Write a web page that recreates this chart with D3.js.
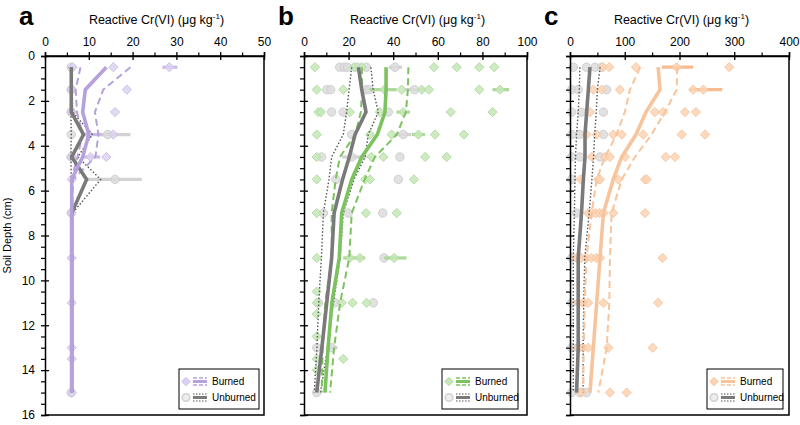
<!DOCTYPE html>
<html><head><meta charset="utf-8">
<script src="https://cdn.jsdelivr.net/npm/d3@7"></script>
<style>body{margin:0;background:#fff}svg{display:block;font-family:"Liberation Sans",Arial,sans-serif}</style>
</head><body><svg id="chart" width="800" height="425"></svg>
<script>
// ---------------- DATA ----------------
const depths = [0.5, 1.5, 2.5, 3.5, 4.5, 5.5, 7, 9, 11, 13, 15];
const depthTicks = [0, 2, 4, 6, 8, 10, 12, 14, 16];

// Panel a
const aTicks = [0, 10, 20, 30, 40, 50];
const aBurnedMean = [14, 9.2, 8.6, 10, 8.6, 6.1, 6.1, 6.1, 6.1, 6.1, 6.1];
const aBurnedLo   = [8.1, 7.0, 7.3, 8.6, 7.4, 6.0, 6.0, 6.0, 6.0, 6.0, 6.0];
const aBurnedHi   = [19.5, 13.3, 11.4, 12.2, 11.5, 6.4, 6.2, 6.2, 6.2, 6.2, 6.2];
const aUnbMean    = [6, 6, 6, 8.8, 6.1, 9.5, 6.1, 6.1, 6.1, 6.1, 6.1];
const aUnbLo      = [5.9, 5.9, 5.9, 6.0, 5.9, 6.0, 5.9, 5.9, 5.9, 5.9, 5.9];
const aUnbHi      = [6.2, 6.2, 6.3, 10.8, 7.5, 12.7, 6.3, 6.2, 6.2, 6.2, 6.2];
// points: [depth, value, errLo, errHi]
const aBurnedPts = [[0.5,6.3],[0.5,15.6],[0.5,28.4,26.8,30.2],[1.5,6],[1.5,18.7],[2.5,6],[2.5,16],
  [3.5,10,8.5,13],[3.5,15.6],[4.5,6],[4.5,10.4,8.8,12.6],[4.5,14],[5.5,6.1],[7,6.1],[9,6.1],[11,6.1],
  [13,6.1],[13.5,6.1],[15,6.1]];
const aUnbPts = [[0.5,6],[1.5,6],[2.5,6],[3.5,6],[3.5,14.3,12,19.5],[4.5,6],[5.5,16,9.5,22.1],[7,6],[15,6]];

// Panel b
const bTicks = [0, 20, 40, 60, 80, 100];
const bBurnedMean = [36.8, 36.8, 36.3, 32.9, 25.9, 21.4, 16.9, 15.8, 12.5, 10.8, 9.4];
const bBurnedLo   = [25.9, 26.1, 25.5, 23, 16.1, 14.2, 12.4, 12.5, 9.5, 8.4, 7.9];
const bBurnedHi   = [46.8, 46.6, 45.7, 41.6, 31.8, 27.2, 21.4, 20.3, 16.2, 13.5, 11.7];
const bUnbMean    = [24.4, 25.9, 27.8, 22.9, 20.3, 17.3, 13.5, 12.4, 10.2, 8.0, 5.7];
const bUnbLo      = [21.4, 20.2, 19.1, 17.6, 12.4, 11.2, 8.7, 7.8, 6.6, 5.8, 4.6];
const bUnbHi      = [30, 31, 33.3, 28.8, 27.4, 22.4, 17.6, 16.2, 13.2, 10.6, 7.4];
const bBurnedPts = [[0.5,4.9],[0.5,22.4],[0.5,25.9],[0.5,58.3],[0.5,68.5],[0.5,78.6],[0.5,85.3],
  [1.5,5.7],[1.5,17.6],[1.5,36,29.3,41.6],[1.5,43.8],[1.5,52.8],[1.5,56],[1.5,78.6],[1.5,87.9,84.5,92],
  [2.5,6.4],[2.5,7.6],[2.5,20.6],[2.5,34],[2.5,44.5,41.5,47.5],[2.5,65.8],[2.5,84.6],
  [3.5,5.7],[3.5,29.6],[3.5,39.3],[3.5,51.3,48.3,54.3],[3.5,58.7],[3.5,71.7],
  [4.5,5.7],[4.5,30.3],[4.5,35.6],[4.5,54.3],[4.5,64],
  [5.5,5.7],[5.5,27.4],[5.5,29.6],[5.5,49.3],
  [7,5.7],[7,27.8],[7,41.6],
  [9,5.7],[9,20.6,17.6,27.4],[9,25.1],[9,40.4,36,46],
  [10.5,5.7],[11,5.7],[11,16.9],[11,21.8],[11,28.1],[11.5,5.7],[12.5,5.7],
  [13.5,5.7],[13.5,17.6],[14,5.7]];
const bUnbPts = [[0.5,16],[0.5,18],[0.5,19.5],[0.5,23.8],[0.5,28],[0.5,40.8,38,44],
  [1.5,10.2],[1.5,12],[1.5,27.8],[1.5,29.3],[1.5,49.5,45,54],
  [2.5,12.4],[2.5,17.6],[2.5,37.8],
  [3.5,21.4],[3.5,44.5,41,48],
  [4.5,7.9],[4.5,21.4,17,28.1],[4.5,43],
  [5.5,14.3],[5.5,42.3],
  [7,8.7],[7,19.9],[7,35.3],
  [9,35.9],[11,6.5],[11,13.9],[11,31.1],[13,5.7],[13,12.4,10,15],[15,5.7]];

// Panel c
const cTicks = [0, 100, 200, 300, 400];
const cBurnedMean = [161, 164.4, 138.8, 120.5, 94.4, 79, 61, 54.8, 48.7, 42.6, 36.5];
const cBurnedLo   = [128, 109.6, 100, 85, 64, 48.7, 39.6, 30, 27, 25, 24.4];
const cBurnedHi   = [196, 194.8, 173.5, 149, 118.7, 94.4, 76, 73, 71.8, 67, 51.7];
const cUnbMean    = [36.5, 33.5, 30.4, 27.4, 27.4, 24.4, 21, 15, 15, 15, 12];
const cUnbLo      = [18, 17, 15, 12, 10, 9, 8, 6, 6, 6, 6];
const cUnbHi      = [55, 50, 48, 45, 43, 40, 35, 27, 25, 24, 24];
const cBurnedPts = [[0.5,60],[0.5,71.8],[0.5,120.5],[0.5,194.8,168,225],[0.5,291],
  [1.5,42.6],[1.5,58],[1.5,91],[1.5,225],[1.5,243.5,218,278],
  [2.5,36.5],[2.5,155],[2.5,170],[2.5,210],[2.5,230],
  [3.5,30],[3.5,48.7],[3.5,79],[3.5,94.4],[3.5,133.9],[3.5,204],[3.5,246.6],
  [4.5,40],[4.5,64],[4.5,73],[4.5,100.5],[4.5,175],[4.5,191.8],
  [5.5,19.5],[5.5,51.7],[5.5,55],[5.5,88],[5.5,137],[5.5,140],
  [7,33],[7,40],[7,47],[7,54],[7,61],[7,79],[7,137],
  [9,12],[9,21],[9,30],[9,39],[9,48],[9,54.8],[9,169],
  [11,15],[11,24],[11,33],[11,61],[11,161],
  [13,15],[13,24],[13,33.5],[13,70],[13,151],
  [15,21],[15,73],[15,103.5]];
const cUnbPts = [[0.5,6],[0.5,30],[0.5,45.6],[0.5,57.8],[1.5,3],[1.5,15],[1.5,67],
  [2.5,3],[2.5,21],[2.5,61],[3.5,3],[3.5,18],[3.5,61],[4.5,3],[4.5,18],[4.5,54.8],
  [5.5,3],[7,12],[9,3],[11,3],[13,3],[13,15],[15,3],[15,18],[15,30.4]];

const legendLabels = ["Burned", "Unburned"];

// ---------------- DRAW ----------------
const svg = d3.select('#chart');
const yTop = 56, yBot = 415;
const y = d3.scaleLinear().domain([0, 16]).range([yTop, yBot]);
const minorDepths = d3.range(0, 16.01, 0.5).filter(d => d % 2 !== 0);

const panels = [
  {letter:'a', x0:45, x1:264, ticks:aTicks, minorStep:5, yLabels:true,
   bMean:aBurnedMean, bLo:aBurnedLo, bHi:aBurnedHi, uMean:aUnbMean, uLo:aUnbLo, uHi:aUnbHi,
   bPts:aBurnedPts, uPts:aUnbPts, line:'#b7a1dd', pt:'#ddd2f1', ptS:'#cfc0ea', bar:'#cbbbe9', lx:179, lw:80},
  {letter:'b', x0:304, x1:527, ticks:bTicks, minorStep:10, yLabels:false,
   bMean:bBurnedMean, bLo:bBurnedLo, bHi:bBurnedHi, uMean:bUnbMean, uLo:bUnbLo, uHi:bUnbHi,
   bPts:bBurnedPts, uPts:bUnbPts, line:'#7cc35f', pt:'#c6e6b8', ptS:'#b4dda2', bar:'#acd998', lx:442, lw:76},
  {letter:'c', x0:570, x1:789, ticks:cTicks, minorStep:50, yLabels:false,
   bMean:cBurnedMean, bLo:cBurnedLo, bHi:cBurnedHi, uMean:cUnbMean, uLo:cUnbLo, uHi:cUnbHi,
   bPts:cBurnedPts, uPts:cUnbPts, line:'#f8c49c', pt:'#fbd3b5', ptS:'#f9c7a1', bar:'#f7bb8f', lx:707, lw:76}
];

const diamond = r => `M0,${-r}L${r},0L0,${r}L${-r},0Z`;
const greyPt = '#dcdcdc', greyPtS = '#d0d0d0', greyBar = '#d2d2d2', greyLine = '#7a7a7a', greyDot = '#555';

panels.forEach(p => {
  const max = p.ticks[p.ticks.length - 1];
  const x = d3.scaleLinear().domain([0, max]).range([p.x0, p.x1]);
  const g = svg.append('g');
  const plot = g.append('g');

  const drawPts = (pts, isBurned) => {
    pts.forEach(d => {
      if (d.length > 2) {
        plot.append('line').attr('x1', x(d[2])).attr('x2', x(d[3])).attr('y1', y(d[0])).attr('y2', y(d[0]))
          .attr('stroke', isBurned ? p.bar : greyBar).attr('stroke-width', 3.2);
      }
    });
    pts.forEach(d => {
      if (isBurned) {
        plot.append('path').attr('d', diamond(4.6)).attr('transform', `translate(${x(d[1])},${y(d[0])})`)
          .attr('fill', p.pt).attr('stroke', p.ptS).attr('stroke-width', 1).attr('fill-opacity', 0.85);
      } else {
        plot.append('circle').attr('cx', x(d[1])).attr('cy', y(d[0])).attr('r', 4.2)
          .attr('fill', greyPt).attr('stroke', greyPtS).attr('stroke-width', 1).attr('fill-opacity', 0.85);
      }
    });
  };
  drawPts(p.uPts, false);
  drawPts(p.bPts, true);

  const line = arr => d3.line().x((v) => x(v)).y((v, i) => y(depths[i]))(arr);
  [p.uLo, p.uHi].forEach(arr => plot.append('path').attr('d', line(arr)).attr('fill', 'none')
    .attr('stroke', greyDot).attr('stroke-width', 1.4).attr('stroke-dasharray', '1.5,2'));
  [p.bLo, p.bHi].forEach(arr => plot.append('path').attr('d', line(arr)).attr('fill', 'none')
    .attr('stroke', p.line).attr('stroke-width', 2).attr('stroke-dasharray', '7,4'));
  plot.append('path').attr('d', line(p.uMean)).attr('fill', 'none').attr('stroke', greyLine).attr('stroke-width', 3.6);
  plot.append('path').attr('d', line(p.bMean)).attr('fill', 'none').attr('stroke', p.line).attr('stroke-width', 3.6);

  g.append('path').attr('d', `M${p.x0},${yTop}H${p.x1}V${yBot}H${p.x0}`).attr('fill', 'none')
    .attr('stroke', '#000').attr('stroke-width', 1.5);

  const topMajor = g.append('g').attr('transform', `translate(0,${yTop})`)
    .call(d3.axisTop(x).tickValues(p.ticks).tickSize(4).tickPadding(6).tickFormat(d3.format('d')));
  topMajor.select('.domain').attr('stroke-width', 1.5);
  topMajor.selectAll('.tick line').attr('y1', 4).attr('stroke-width', 1.3);
  topMajor.selectAll('.tick text').attr('font-size', 12).attr('font-family', '"Liberation Sans",Arial,sans-serif').attr('fill', '#000');
  const minorX = d3.range(p.minorStep, max, p.minorStep * 2);
  g.append('g').attr('transform', `translate(0,${yTop})`)
    .call(d3.axisTop(x).tickValues(minorX).tickSize(3.5).tickFormat(''))
    .call(s => s.select('.domain').remove())
    .selectAll('.tick line').attr('stroke-width', 1.2);

  const left = g.append('g').attr('transform', `translate(${p.x0},0)`)
    .call(d3.axisLeft(y).tickValues(depthTicks).tickSize(4).tickPadding(6)
      .tickFormat(p.yLabels ? d3.format('d') : ''));
  left.select('.domain').attr('stroke-width', 1.5);
  left.selectAll('.tick line').attr('x1', 4).attr('stroke-width', 1.3);
  left.selectAll('.tick text').attr('font-size', 12).attr('font-family', '"Liberation Sans",Arial,sans-serif').attr('fill', '#000');
  g.append('g').attr('transform', `translate(${p.x0},0)`)
    .call(d3.axisLeft(y).tickValues(minorDepths).tickSize(4).tickFormat(''))
    .call(s => s.select('.domain').remove())
    .selectAll('.tick line').attr('stroke-width', 1.2);

  const cx = (p.x0 + p.x1) / 2 + 2;
  const t = g.append('text').attr('x', cx).attr('y', 24).attr('text-anchor', 'middle').attr('font-size', 12.5);
  t.append('tspan').text('Reactive Cr(VI) (μg kg');
  t.append('tspan').text('-1').attr('font-size', 8).attr('dy', -5);
  t.append('tspan').text(')').attr('dy', 5);

  g.append('text').attr('x', p.x0 - 26).attr('y', 25).attr('font-size', 26).attr('font-weight', 'bold').text(p.letter);

  const ly = 369, lh = 40;
  const lg = g.append('g');
  lg.append('rect').attr('x', p.lx).attr('y', ly).attr('width', p.lw).attr('height', lh)
    .attr('fill', '#fff').attr('stroke', '#000').attr('stroke-width', 1);
  const rows = [ly + 12.5, ly + 28.5];
  lg.append('path').attr('d', diamond(4.2)).attr('transform', `translate(${p.lx + 7},${rows[0]})`)
    .attr('fill', p.pt).attr('stroke', p.ptS);
  [-3.5, 3.5].forEach(o => lg.append('line').attr('x1', p.lx + 14).attr('x2', p.lx + 28).attr('y1', rows[0] + o).attr('y2', rows[0] + o)
    .attr('stroke', p.line).attr('stroke-width', 1.5).attr('stroke-dasharray', '4,2'));
  lg.append('line').attr('x1', p.lx + 14).attr('x2', p.lx + 28).attr('y1', rows[0]).attr('y2', rows[0])
    .attr('stroke', p.line).attr('stroke-width', 3);
  lg.append('text').attr('x', p.lx + 33).attr('y', rows[0] + 3.5).attr('font-size', 10).text(legendLabels[0]);
  lg.append('circle').attr('cx', p.lx + 7).attr('cy', rows[1]).attr('r', 3.8)
    .attr('fill', '#eee').attr('stroke', '#d0d0d0').attr('stroke-width', 1.5);
  [-3.5, 3.5].forEach(o => lg.append('line').attr('x1', p.lx + 14).attr('x2', p.lx + 28).attr('y1', rows[1] + o).attr('y2', rows[1] + o)
    .attr('stroke', greyDot).attr('stroke-width', 1.2).attr('stroke-dasharray', '1.5,1.5'));
  lg.append('line').attr('x1', p.lx + 14).attr('x2', p.lx + 28).attr('y1', rows[1]).attr('y2', rows[1])
    .attr('stroke', greyLine).attr('stroke-width', 3);
  lg.append('text').attr('x', p.lx + 33).attr('y', rows[1] + 3.5).attr('font-size', 10).text(legendLabels[1]);
});

svg.append('text').attr('transform', `translate(11,${(yTop + yBot) / 2}) rotate(-90)`)
  .attr('text-anchor', 'middle').attr('font-size', 11).text('Soil Depth (cm)');
</script>
</body></html>
